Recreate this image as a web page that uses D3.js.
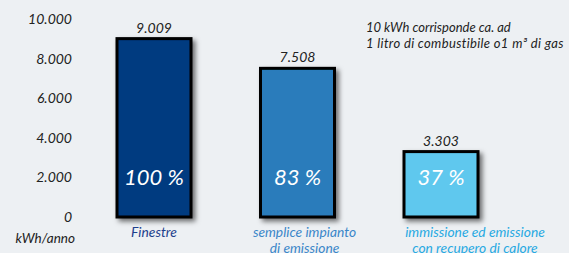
<!DOCTYPE html>
<html>
<head>
<meta charset="utf-8">
<script src="https://cdn.jsdelivr.net/npm/d3@7"></script>
<style>
  body { margin: 0; background: #edf0f3; }
  svg { display: block; font-family: Lato, "Open Sans", sans-serif; font-style: italic; }
</style>
</head>
<body>
<svg id="svg" width="569" height="253"></svg>
<script>
// Data
const categories = [["Finestre"], ["semplice impianto", "di emissione"], ["immissione ed emissione", "con recupero di calore"]];
const values = [9009, 7508, 3303];
const percents = ["100 %", "83 %", "37 %"];
const yTicks = [0, 2000, 4000, 6000, 8000, 10000];
const noteLines = ["10 kWh corrisponde ca. ad", "1 litro di combustibile o1 m³ di gas"];

// Styles
const barColors = ["#003a80", "#2b7bbb", "#5ec8ee"];
const labelColors = ["#1d3f8c", "#3b87c9", "#27a9e2"];
const labelDx = [0, 7, 34];
const BAR_W = 74;

const svg = d3.select("#svg");
const locale = d3.formatLocale({decimal: ",", thousands: ".", grouping: [3], currency: ["", "€"]});
const fmt = locale.format(",d");

const x = d3.scalePoint().domain(d3.range(values.length)).range([154, 441]);
const y = d3.scaleLinear().domain([0, 10000]).range([217, 19]);

// drop shadow
const defs = svg.append("defs");
defs.append("filter").attr("id", "shadow")
  .attr("x", "-20%").attr("y", "-20%").attr("width", "150%").attr("height", "150%")
  .append("feDropShadow")
  .attr("dx", 3).attr("dy", 3).attr("stdDeviation", 2.5)
  .attr("flood-color", "#000").attr("flood-opacity", 0.55);

// y axis tick labels
svg.append("g").selectAll("text")
  .data(yTicks).enter().append("text")
  .attr("x", 72)
  .attr("y", d => y(d))
  .attr("dy", "0.35em")
  .attr("text-anchor", "end")
  .attr("font-size", 14)
  .attr("fill", "#222")
  .text(d => fmt(d));

svg.append("text")
  .attr("x", 75).attr("y", 243)
  .attr("text-anchor", "end")
  .attr("font-size", 13.5)
  .attr("fill", "#222")
  .text("kWh/anno");

// bars
svg.append("g").selectAll("rect")
  .data(values).enter().append("rect")
  .attr("x", (d, i) => x(i) - BAR_W / 2)
  .attr("y", d => y(d))
  .attr("width", BAR_W)
  .attr("height", d => y(0) - y(d))
  .attr("fill", (d, i) => barColors[i])
  .attr("stroke", "#000")
  .attr("stroke-width", 3)
  .attr("filter", "url(#shadow)");

// value labels
svg.append("g").selectAll("text")
  .data(values).enter().append("text")
  .attr("x", (d, i) => x(i))
  .attr("y", d => y(d) - 6)
  .attr("text-anchor", "middle")
  .attr("font-size", 14)
  .attr("fill", "#222")
  .text(d => fmt(d));

// percent labels
svg.append("g").selectAll("text")
  .data(percents).enter().append("text")
  .attr("x", (d, i) => x(i))
  .attr("y", y(2000))
  .attr("dy", "0.35em")
  .attr("text-anchor", "middle")
  .attr("font-size", 22)
  .attr("fill", "#fff")
  .text(d => d);

// category labels
const cat = svg.append("g").selectAll("text")
  .data(categories).enter().append("text")
  .attr("x", (d, i) => x(i) + labelDx[i])
  .attr("y", 237)
  .attr("text-anchor", "middle")
  .attr("font-size", 13.8)
  .attr("fill", (d, i) => labelColors[i]);
cat.selectAll("tspan")
  .data((d, i) => d.map(t => ({t, i})))
  .enter().append("tspan")
  .attr("x", d => x(d.i) + labelDx[d.i])
  .attr("dy", (d, j) => j === 0 ? 0 : 16)
  .text(d => d.t);

// note
svg.append("text")
  .attr("font-size", 13)
  .attr("fill", "#222")
  .selectAll("tspan")
  .data(noteLines).enter().append("tspan")
  .attr("x", 366)
  .attr("y", (d, i) => 32 + i * 16)
  .attr("letter-spacing", (d, i) => i === 1 ? 0.35 : 0)
  .text(d => d);
</script>
</body>
</html>
